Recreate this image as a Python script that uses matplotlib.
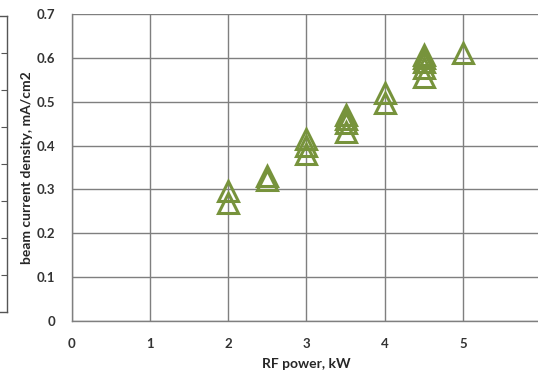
import numpy as np
import matplotlib.pyplot as plt

plt.rcParams['font.family'] = ['Lato', 'DejaVu Sans']
plt.rcParams['font.weight'] = 'bold'
plt.rcParams['axes.labelweight'] = 'bold'

# RF power (kW) and measured beam current density (mA/cm2)
power = [2, 2,
         2.5, 2.5,
         3, 3, 3,
         3.5, 3.5, 3.5, 3.5,
         4, 4,
         4.5, 4.5, 4.5, 4.5, 4.5,
         5]
density = [0.297, 0.270,
           0.331, 0.322,
           0.415, 0.399, 0.380,
           0.469, 0.461, 0.451, 0.431,
           0.520, 0.496,
           0.607, 0.599, 0.590, 0.577, 0.556,
           0.612]

x_ticks = [0, 1, 2, 3, 4, 5, 6]
y_ticks = [0, 0.1, 0.2, 0.3, 0.4, 0.5, 0.6, 0.7]

W, H = 538, 371
fig = plt.figure(figsize=(W / 100, H / 100), dpi=100)

# main plot area
ax = fig.add_axes([72 / W, (H - 321) / H, 469 / W, 307 / H])
ax.plot(power, density, linestyle='none', marker='^', markersize=14,
        markerfacecolor='none', markeredgecolor='#77933C', markeredgewidth=2.2,
        clip_on=False, zorder=3)

ax.set_xlim(0, 6)
ax.set_ylim(0, 0.7)
ax.set_xticks(x_ticks)
ax.set_yticks(y_ticks)
ax.set_xticklabels([str(t) for t in x_ticks])
ax.set_yticklabels(['0'] + ['%.1f' % t for t in y_ticks[1:]])
ax.tick_params(length=0, labelsize=9.5, colors='#333333')
ax.tick_params(axis='x', pad=12)
ax.tick_params(axis='y', pad=12)
ax.grid(True, color='#7f7f7f', linewidth=1)
ax.set_axisbelow(True)
for side in ['top', 'right']:
    ax.spines[side].set_visible(False)
for side in ['left', 'bottom']:
    ax.spines[side].set_color('#7f7f7f')
    ax.spines[side].set_linewidth(1)

ax.set_xlabel('RF power, kW', fontsize=10, color='#262626', labelpad=6)
ax.set_ylabel('beam current density, mA/cm2', fontsize=10, color='#262626',
              labelpad=3)

# edge of the neighbouring chart frame
side_ax = fig.add_axes([-0.05, (H - 312) / H, 0.05 + 7 / W, 296 / H])
side_ax.set_xlim(0, 1)
side_ax.set_ylim(0, 8)
side_ax.set_xticks([])
side_ax.set_yticks(np.arange(1, 8))
side_ax.yaxis.tick_right()
side_ax.tick_params(axis='y', direction='in', length=4, color='#555555',
                    labelright=False)
for s in side_ax.spines.values():
    s.set_color('#555555')
    s.set_linewidth(1)

fig.savefig('out.png', dpi=100)
